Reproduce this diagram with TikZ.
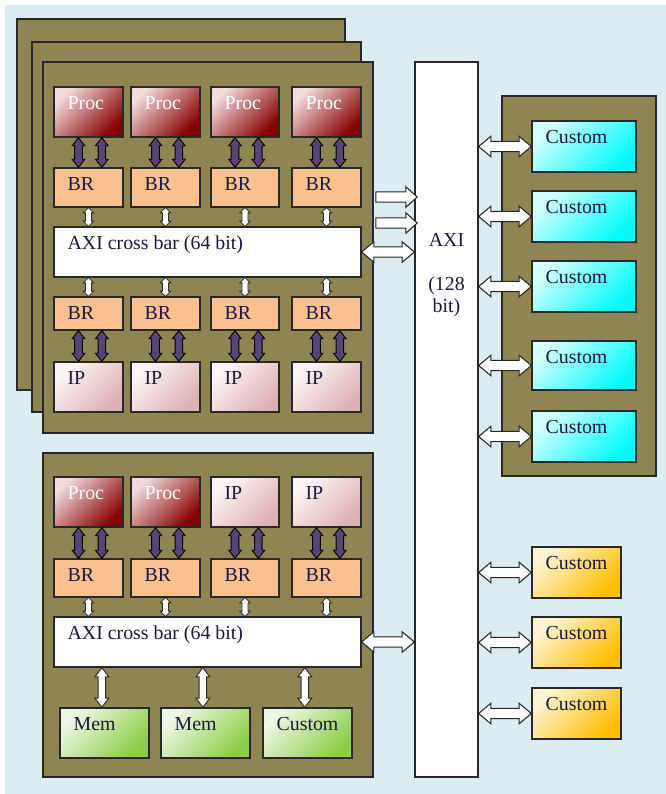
\documentclass[tikz,border=0pt]{standalone}
\usepackage{fontspec}
\setmainfont{Liberation Serif}
\usetikzlibrary{shapes.arrows,fit,calc}

\definecolor{bgblue}{RGB}{219,236,243}
\definecolor{boardc}{RGB}{143,133,82}
\definecolor{edge}{RGB}{40,40,40}
\definecolor{brfill}{RGB}{250,192,143}
\definecolor{proclight}{RGB}{242,218,220}
\definecolor{procdark}{RGB}{135,0,0}
\definecolor{iplight}{RGB}{253,246,246}
\definecolor{ipdark}{RGB}{222,176,178}
\definecolor{cylight}{RGB}{210,255,255}
\definecolor{cydark}{RGB}{0,250,250}
\definecolor{orlight}{RGB}{255,244,210}
\definecolor{ordark}{RGB}{255,190,0}
\definecolor{grlight}{RGB}{238,247,230}
\definecolor{grdark}{RGB}{140,205,70}
\definecolor{arrpurple}{RGB}{88,68,118}
\definecolor{txtblue}{RGB}{25,25,60}

\newcommand{\blkarr}[3][]{% block arrow node stretched from (#2) to (#3)
  \path let \p1=($(#3)-(#2)$), \n1={veclen(\x1,\y1)}, \n2={atan2(\y1,\x1)} in
    node[#1, minimum height=\n1, rotate=\n2] at ($(#2)!0.5!(#3)$) {};
}

\tikzset{
  board/.style={draw=edge, line width=1pt, fill=boardc, inner sep=0pt},
  box/.style={draw=edge, line width=1pt, inner sep=0pt},
  tag/.style={anchor=base west, inner sep=0pt, xshift=10.5pt, yshift=-17.5pt, text=txtblue},
  proc/.style={box, top color=proclight, bottom color=procdark, shading angle=45},
  ip/.style={box, top color=iplight, bottom color=ipdark, shading angle=45},
  br/.style={box, fill=brfill},
  xbar/.style={box, fill=white},
  cust/.style={box, top color=cylight, bottom color=cydark, shading angle=45},
  outer/.style={box, top color=orlight, bottom color=ordark, shading angle=45},
  mem/.style={box, top color=grlight, bottom color=grdark, shading angle=45},
  purp/.style={double arrow, draw=black, fill=arrpurple, line width=0.7pt, inner sep=2.5pt,
    double arrow head extend=1.9pt, double arrow tip angle=76},
  sm/.style={double arrow, draw=edge, fill=white, line width=0.6pt, inner sep=2pt,
    double arrow head extend=1.6pt, double arrow tip angle=90},
  mid/.style={double arrow, draw=edge, fill=white, line width=0.7pt, inner sep=2.5pt,
    double arrow head extend=2.4pt, double arrow tip angle=74},
  wide/.style={double arrow, draw=edge, fill=white, line width=0.8pt, inner sep=3.5pt,
    double arrow head extend=3.8pt, double arrow tip angle=80},
  sgl/.style={single arrow, draw=edge, fill=white, line width=0.8pt, inner sep=3.5pt,
    single arrow head extend=3.8pt, single arrow tip angle=84}
}

\begin{document}
\begin{tikzpicture}[x=0.75pt, y=-0.75pt, font=\fontsize{14.9pt}{16.5pt}\selectfont]
  \useasboundingbox (0,0) rectangle (666,794);
  \fill[bgblue] (5,5) rectangle (666,794);

  % boards and bus
  \node[board, fit={(17,19) (345,390)}] (bd1) {};
  \node[board, fit={(32,42) (361,412)}] (bd2) {};
  \node[board, fit={(43,62) (373,433)}] (bd3) {};
  \node[board, fit={(43,453) (373,777)}] (bd4) {};
  \node[board, fit={(502,96) (656,476)}] (bd5) {};
  \node[box, fill=white, fit={(415,62) (478,777)}] (axi) {};
  \node[anchor=north, align=center, inner sep=0pt, text=txtblue] (axil) at (446.5,233) {AXI\\[16.5pt](128\\bit)};

  % front cluster
  \node[xbar, fit={(54,227) (361,277)}, label={[tag]north west:AXI cross bar (64 bit)}] (xa) {};
  \foreach \i/\xa/\xb in {1/54/123, 2/131/200, 3/211/279, 4/292/361}{
    \node[proc, fit={(\xa,87) (\xb,137)}, label={[tag, text=white]north west:Proc}] (pa\i) {};
    \node[br, fit={(\xa,168) (\xb,207)}, label={[tag]north west:BR}] (ba\i) {};
    \node[br, fit={(\xa,297) (\xb,330)}, label={[tag]north west:BR}] (bb\i) {};
    \node[ip, fit={(\xa,362) (\xb,412)}, label={[tag]north west:IP}] (ia\i) {};
    \blkarr[purp]{[xshift=-7.5pt]pa\i.south}{[xshift=-7.5pt]ba\i.north}
    \blkarr[purp]{[xshift=10pt]pa\i.south}{[xshift=10pt]ba\i.north}
    \blkarr[sm]{ba\i.south}{ba\i.south |- xa.north}
    \blkarr[sm]{bb\i.north}{bb\i.north |- xa.south}
    \blkarr[purp]{[xshift=-7.5pt]bb\i.south}{[xshift=-7.5pt]ia\i.north}
    \blkarr[purp]{[xshift=10pt]bb\i.south}{[xshift=10pt]ia\i.north}
  }
  \coordinate (s1) at (373,197);
  \coordinate (s2) at (373,223);
  \blkarr[sgl]{s1}{s1 -| axi.west}
  \blkarr[sgl]{s2}{s2 -| axi.west}
  \blkarr[wide]{xa.east}{xa.east -| axi.west}

  % lower cluster
  \node[xbar, fit={(54,617) (361,667)}, label={[tag]north west:AXI cross bar (64 bit)}] (xb) {};
  \foreach \i/\xa/\xb/\kind/\txt/\tc in {1/54/123/proc/Proc/white, 2/131/200/proc/Proc/white,
      3/211/279/ip/IP/txtblue, 4/292/361/ip/IP/txtblue}{
    \node[\kind, fit={(\xa,477) (\xb,527)}, label={[tag, text=\tc]north west:\txt}] (pc\i) {};
    \node[br, fit={(\xa,559) (\xb,597)}, label={[tag]north west:BR}] (bc\i) {};
    \blkarr[purp]{[xshift=-7.5pt]pc\i.south}{[xshift=-7.5pt]bc\i.north}
    \blkarr[purp]{[xshift=10pt]pc\i.south}{[xshift=10pt]bc\i.north}
    \blkarr[sm]{bc\i.south}{bc\i.south |- xb.north}
  }
  \foreach \i/\xa/\xb/\txt in {1/60/149/Mem, 2/161/250/Mem, 3/263/352/Custom}{
    \node[mem, fit={(\xa,708) (\xb,758)}, label={[tag]north west:\txt}] (m\i) {};
    \blkarr[mid]{[xshift=-2pt]m\i.north}{[xshift=-2pt]m\i.north |- xb.south}
  }
  \blkarr[wide]{xb.east}{xb.east -| axi.west}

  % custom blocks on the bus
  \foreach \i/\ya/\yb in {1/121/172, 2/191/242, 3/261/312, 4/341/390, 5/411/462}{
    \node[cust, fit={(532,\ya) (636,\yb)}, label={[tag]north west:Custom}] (cu\i) {};
    \blkarr[wide]{cu\i.west -| axi.east}{cu\i.west}
  }
  \foreach \i/\ya/\yb in {1/547/598, 2/617/668, 3/688/739}{
    \node[outer, fit={(532,\ya) (621,\yb)}, label={[tag]north west:Custom}] (co\i) {};
    \blkarr[wide]{co\i.west -| axi.east}{co\i.west}
  }
\end{tikzpicture}
\end{document}
